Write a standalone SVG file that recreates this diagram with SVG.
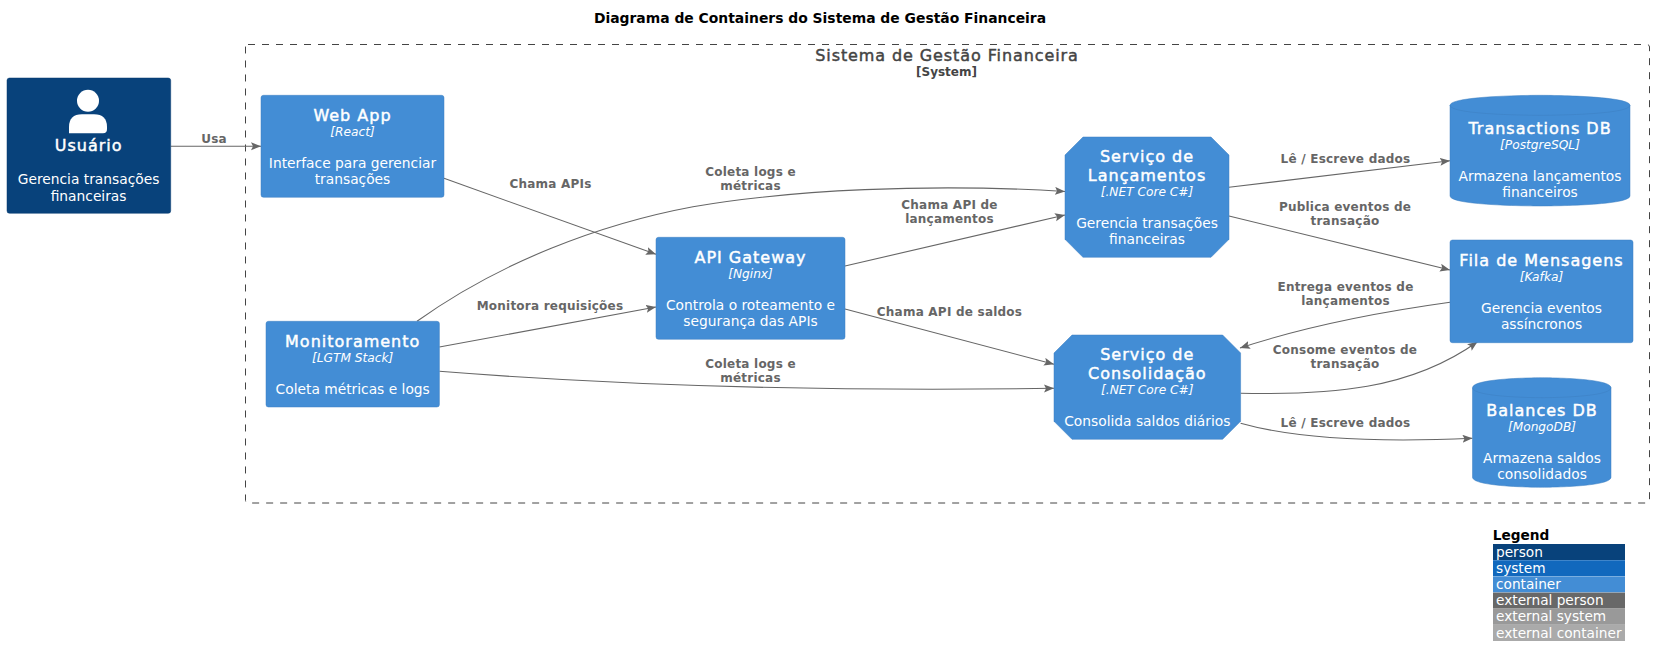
<svg xmlns="http://www.w3.org/2000/svg" width="1654" height="667" viewBox="0 0 1654 667">
<style>
text{font-family:"DejaVu Sans",sans-serif;text-anchor:middle}
.n{fill:#438DD5;stroke:#3C7FC0;stroke-width:.5}
.in{fill:none;stroke:#3C7FC0;stroke-width:.5}
.t{font-size:16px;fill:#fff;stroke:#fff;stroke-width:.45;letter-spacing:1px}
.k{font-size:12.2px;font-style:italic;fill:#fff}
.d{font-size:13.8px;fill:#fff}
.l{font-size:12px;font-weight:bold;fill:#666;letter-spacing:.22px}
.c path{fill:none;stroke:#666;stroke-width:1.1}
.g text{font-size:13.7px;fill:#fff;text-anchor:start}
</style>
<defs><marker id="a" markerUnits="userSpaceOnUse" markerWidth="12" markerHeight="10" refX="10" refY="4" orient="auto"><path d="M0,0L10,4L0,8L2,4Z" fill="#666"/></marker></defs>
<rect width="1654" height="667" fill="#fff"/>
<text x="820" y="23" fill="#000" style="font-size:13.9px;font-weight:bold">Diagrama de Containers do Sistema de Gestão Financeira</text>
<g id="boundary"><rect x="245.5" y="44.5" width="1404" height="458.5" rx="2.5" fill="none" stroke="#444" stroke-dasharray="7 7"/>
<text x="947" y="61" fill="#444" stroke="#444" stroke-width=".45" style="font-size:16px;letter-spacing:.9px">Sistema de Gestão Financeira</text>
<text x="946.5" y="76" fill="#444" style="font-size:12px;font-weight:bold">[System]</text></g>
<g id="connectors" class="c">
<path marker-end="url(#a)" d="M170.7,146.3H261"/>
<path marker-end="url(#a)" d="M444,178.3L656,254.3"/>
<path marker-end="url(#a)" d="M417,321.3C500,262 600,224 693,206.7C790,190 930,183 1065,191.5"/>
<path marker-end="url(#a)" d="M439.4,347L656,307"/>
<path marker-end="url(#a)" d="M439.4,371.3C600,384 800,392 1054,388.3"/>
<path marker-end="url(#a)" d="M845,266L1065,215"/>
<path marker-end="url(#a)" d="M845,309L1054,364.3"/>
<path marker-end="url(#a)" d="M1229,187.3L1450,160.7"/>
<path marker-end="url(#a)" d="M1229,216L1450,270"/>
<path marker-end="url(#a)" d="M1450,302.3C1380,312 1310,325 1240,348"/>
<path marker-end="url(#a)" d="M1240.6,393.3C1330,395 1410,390 1477.5,341.7"/>
<path marker-end="url(#a)" d="M1240.6,423.3C1300,440 1390,442 1472.5,438.3"/>
</g>
<g id="labels">
<text class="l" x="214" y="143">Usa</text>
<text class="l" x="550.5" y="188">Chama APIs</text>
<text class="l" x="750.5" y="176">Coleta logs e</text><text class="l" x="750.5" y="190">métricas</text>
<text class="l" x="949.5" y="209">Chama API de</text><text class="l" x="949.5" y="223">lançamentos</text>
<text class="l" x="550" y="310">Monitora requisições</text>
<text class="l" x="949.5" y="316">Chama API de saldos</text>
<text class="l" x="750.5" y="368">Coleta logs e</text><text class="l" x="750.5" y="382">métricas</text>
<text class="l" x="1345.5" y="163">Lê / Escreve dados</text>
<text class="l" x="1345" y="211">Publica eventos de</text><text class="l" x="1345" y="225">transação</text>
<text class="l" x="1345.5" y="291">Entrega eventos de</text><text class="l" x="1345.5" y="305">lançamentos</text>
<text class="l" x="1345" y="354">Consome eventos de</text><text class="l" x="1345" y="368">transação</text>
<text class="l" x="1345.5" y="427">Lê / Escreve dados</text>
</g>
<g id="usuario"><rect x="7" y="78" width="163.7" height="135.3" rx="2.5" fill="#08427B" stroke="#073B6F" stroke-width=".5"/>
<circle cx="88" cy="100.7" r="11" fill="#fff"/><path d="M69,133.3V127Q69,114.3 82,114.3H94Q107,114.3 107,127V129Q107,133.3 103,133.3Z" fill="#fff"/>
<text class="t" x="88.6" y="151">Usuário</text><text class="d" x="88.6" y="184">Gerencia transações</text><text class="d" x="88.6" y="201">financeiras</text></g>
<g id="webapp"><rect class="n" x="261" y="95.3" width="183" height="102" rx="2.5"/>
<text class="t" x="352.5" y="121">Web App</text><text class="k" x="352.5" y="136">[React]</text><text class="d" x="352.5" y="168">Interface para gerenciar</text><text class="d" x="352.5" y="184">transações</text></g>
<g id="monitoramento"><rect class="n" x="266" y="321.3" width="173.4" height="85.7" rx="2.5"/>
<text class="t" x="352.7" y="347">Monitoramento</text><text class="k" x="352.7" y="362">[LGTM Stack]</text><text class="d" x="352.7" y="394">Coleta métricas e logs</text></g>
<g id="apigateway"><rect class="n" x="656" y="237.3" width="189" height="102" rx="2.5"/>
<text class="t" x="750.5" y="263">API Gateway</text><text class="k" x="750.5" y="278">[Nginx]</text><text class="d" x="750.5" y="310">Controla o roteamento e</text><text class="d" x="750.5" y="326">segurança das APIs</text></g>
<g id="lancamentos"><polygon class="n" points="1083,137 1211,137 1229,155 1229,239.3 1211,257.3 1083,257.3 1065,239.3 1065,155"/>
<text class="t" x="1147" y="162">Serviço de</text><text class="t" x="1147" y="181">Lançamentos</text><text class="k" x="1147" y="196">[.NET Core C#]</text><text class="d" x="1147" y="228">Gerencia transações</text><text class="d" x="1147" y="244">financeiras</text></g>
<g id="consolidacao"><polygon class="n" points="1072,335 1222.6,335 1240.6,353 1240.6,421.3 1222.6,439.3 1072,439.3 1054,421.3 1054,353"/>
<text class="t" x="1147.3" y="360">Serviço de</text><text class="t" x="1147.3" y="379">Consolidação</text><text class="k" x="1147.3" y="394">[.NET Core C#]</text><text class="d" x="1147.3" y="426">Consolida saldos diários</text></g>
<g id="transactions"><path class="n" d="M1450,105.3C1450,95.3 1540,95.3 1540,95.3C1540,95.3 1630,95.3 1630,105.3V196C1630,206 1540,206 1540,206C1540,206 1450,206 1450,196Z"/><path class="in" d="M1450,105.3C1450,115.3 1540,115.3 1540,115.3C1540,115.3 1630,115.3 1630,105.3"/>
<text class="t" x="1540" y="134">Transactions DB</text><text class="k" x="1540" y="149">[PostgreSQL]</text><text class="d" x="1540" y="181">Armazena lançamentos</text><text class="d" x="1540" y="197">financeiros</text></g>
<g id="fila"><rect class="n" x="1450" y="240" width="183" height="102.7" rx="2.5"/>
<text class="t" x="1541.5" y="266">Fila de Mensagens</text><text class="k" x="1541.5" y="281">[Kafka]</text><text class="d" x="1541.5" y="313">Gerencia eventos</text><text class="d" x="1541.5" y="329">assíncronos</text></g>
<g id="balances"><path class="n" d="M1472.5,387.7C1472.5,377.7 1541.8,377.7 1541.8,377.7C1541.8,377.7 1611,377.7 1611,387.7V477.3C1611,487.3 1541.8,487.3 1541.8,487.3C1541.8,487.3 1472.5,487.3 1472.5,477.3Z"/><path class="in" d="M1472.5,387.7C1472.5,397.7 1541.8,397.7 1541.8,397.7C1541.8,397.7 1611,397.7 1611,387.7"/>
<text class="t" x="1542" y="416">Balances DB</text><text class="k" x="1542" y="431">[MongoDB]</text><text class="d" x="1542" y="463">Armazena saldos</text><text class="d" x="1542" y="479">consolidados</text></g>
<g id="legend" class="g">
<text x="1492.7" y="540" style="fill:#000;font-weight:bold">Legend</text>
<rect x="1493" y="544" width="132" height="16" fill="#08427B"/><text x="1496" y="557">person</text>
<rect x="1493" y="560.2" width="132" height="16" fill="#1168BD"/><text x="1496" y="573">system</text>
<rect x="1493" y="576.4" width="132" height="16" fill="#438DD5"/><text x="1496" y="589">container</text>
<rect x="1493" y="592.6" width="132" height="16" fill="#686868"/><text x="1496" y="605">external person</text>
<rect x="1493" y="608.8" width="132" height="16" fill="#999"/><text x="1496" y="621">external system</text>
<rect x="1493" y="625" width="132" height="16" fill="#AAA"/><text x="1496" y="638">external container</text>
</g>
</svg>
